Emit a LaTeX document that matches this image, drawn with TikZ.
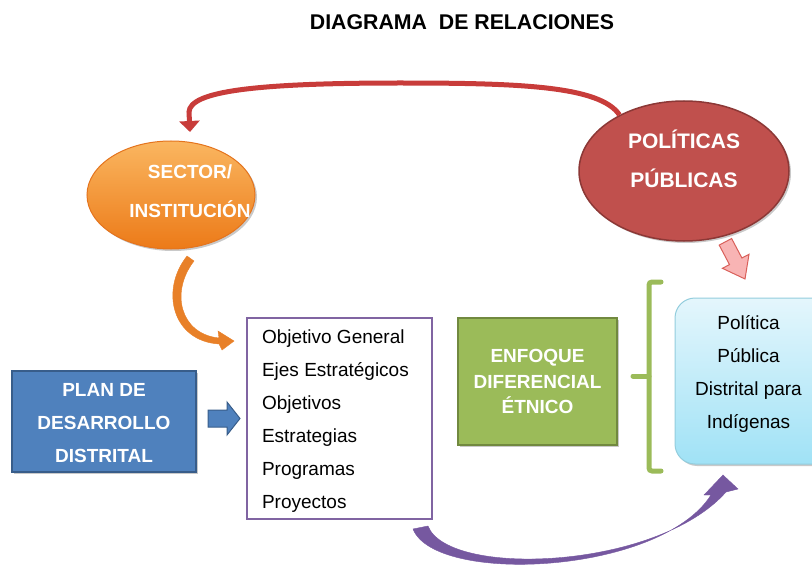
\documentclass[tikz,border=0pt]{standalone}
\usepackage{fontspec}
\setmainfont{Liberation Sans}
\usetikzlibrary{arrows.meta,shapes.geometric,shadows}
\definecolor{orgtop}{RGB}{250,182,96}
\definecolor{orgbot}{RGB}{236,122,24}
\definecolor{orgline}{RGB}{228,116,30}
\definecolor{orarr}{RGB}{232,128,40}
\definecolor{polfill}{RGB}{192,80,77}
\definecolor{polline}{RGB}{140,56,54}
\definecolor{redarr}{RGB}{200,60,58}
\definecolor{planfill}{RGB}{79,129,189}
\definecolor{planline}{RGB}{56,93,138}
\definecolor{grfill}{RGB}{155,187,89}
\definecolor{grline}{RGB}{113,137,63}
\definecolor{purp}{RGB}{128,100,162}
\definecolor{purparr}{RGB}{118,88,160}
\definecolor{lbtop}{RGB}{228,246,252}
\definecolor{lbbot}{RGB}{160,226,246}
\definecolor{lbline}{RGB}{147,205,221}
\definecolor{pinkfill}{RGB}{248,180,180}
\definecolor{pinkline}{RGB}{217,96,90}
\begin{document}
\begin{tikzpicture}[x=1pt,y=-1pt,
  shad/.style={drop shadow={shadow xshift=2pt,shadow yshift=-2pt,opacity=0.3,fill=black!70}},
  body/.style={font=\fontsize{19}{33}\selectfont},
  headw/.style={text=white,font=\bfseries\fontsize{19}{33}\selectfont,align=center},
  sectorshape/.style={ellipse,draw=orgline,line width=1pt,top color=orgtop,bottom color=orgbot,minimum width=168,minimum height=108,inner sep=0pt,shad},
  polshape/.style={ellipse,draw=polline,line width=1.5pt,fill=polfill,minimum width=210,minimum height=140,inner sep=0pt,shad},
  planbox/.style={rectangle,draw=planline,line width=1.5pt,fill=planfill,minimum width=184,minimum height=101,inner sep=0pt,shad},
  listbox/.style={rectangle,draw=purp,line width=2pt,fill=white,minimum width=185,minimum height=201,inner sep=0pt},
  enfbox/.style={rectangle,draw=grline,line width=1.5pt,fill=grfill,minimum width=159,minimum height=127,inner sep=0pt,shad},
  lbbox/.style={rectangle,rounded corners=20pt,draw=lbline,line width=1pt,top color=lbtop,bottom color=lbbot,minimum width=170,minimum height=166,inner sep=0pt,shad},
  redconn/.style={draw=redarr,line width=5pt,-{Triangle[width=20pt,length=11pt]}},
  tapered/.style={line width=0.4pt},
  blockarr/.style={line width=1pt,line join=miter}
]
\useasboundingbox (0,0) rectangle (812,567);

% title
\node[font=\bfseries\fontsize{21.3}{24}\selectfont] (title) at (462,22) {DIAGRAMA\ \ DE RELACIONES};

% ellipses
\node[sectorshape] (sec) at (171,195) {};
\node[headw,font=\bfseries\fontsize{19}{39}\selectfont] (sect) at (190,191.5) {SECTOR/\\INSTITUCIÓN};
\node[polshape] (pol) at (684,171) {};
\node[headw,font=\bfseries\fontsize{21}{39}\selectfont] (polt) at (684,159) {POLÍTICAS\\PÚBLICAS};

% boxes
\node[planbox] (plan) at (104,421.5) {};
\node[headw] (plant) at (104,423.5) {PLAN DE\\DESARROLLO\\DISTRITAL};
\node[listbox] (lista) at (339.5,418.5) {};
\node[body,align=left,anchor=west] (listat) at (258.5,421) {Objetivo General\\Ejes Estratégicos\\Objetivos\\Estrategias\\Programas\\Proyectos};
\node[enfbox,headw,font=\bfseries\fontsize{19}{25.5}\selectfont] (enf) at (537.5,381.5) {ENFOQUE\\DIFERENCIAL\\ÉTNICO};
\node[lbbox] (ppdi) at (760,381) {};
\node[body,align=center] (ppdit) at (748.5,374) {Política\\Pública\\Distrital para\\Indígenas};

% green bracket
\draw[grfill,line width=5pt,line cap=round,rounded corners=3pt] (661,282) -- (649,282) -- (649,471) -- (661,471);
\draw[grfill,line width=5pt,line cap=round] (649,376) -- (633,376);

% red arrow pol -> sector
\coordinate (redstart) at (pol.139);
\coordinate (redend) at (190,132);
\path[redconn] (redstart) .. controls (600,86) and (520,83) .. (400,83)
  .. controls (250,83) and (190,92) .. (189,112) -- (redend);

% orange tapered arrow sector -> list
\coordinate (orA) at (187,256);
\coordinate (orB) at (194,261);
\coordinate (ortip) at (234,341);
\filldraw[tapered,fill=orarr,draw=orarr] (orA) .. controls (160,290) and (172,341) .. (219,344)
  -- (222,350) -- (ortip) -- (218,331) -- (219,338)
  .. controls (180,334) and (170,292) .. (orB) -- cycle;

% purple tapered arrow list -> ppdi
\coordinate (puA) at (413,529);
\coordinate (puB) at (428,526);
\coordinate (putip) at (723,475);
\filldraw[tapered,fill=purparr,draw=purparr] (puA) .. controls (435,585) and (660,575) .. (711,495)
  -- (704,495) -- (putip) -- (738,489) -- (726,492)
  .. controls (657,570) and (448,578) .. (puB) -- cycle;

% blue block arrow plan -> list
\filldraw[blockarr,fill=planfill,draw=planline] (208,410) -- (227,410) -- (227,402) -- (240,418.5) -- (227,435) -- (227,427) -- (208,427) -- cycle;

% pink block arrow pol -> ppdi
\filldraw[blockarr,fill=pinkfill,draw=pinkline] (731.6,238.5) -- (741.9,258.0) -- (749.0,254.3) -- (745,279) -- (722.4,268.3) -- (729.5,264.6) -- (719.2,245.1) -- cycle;
\end{tikzpicture}
\end{document}
